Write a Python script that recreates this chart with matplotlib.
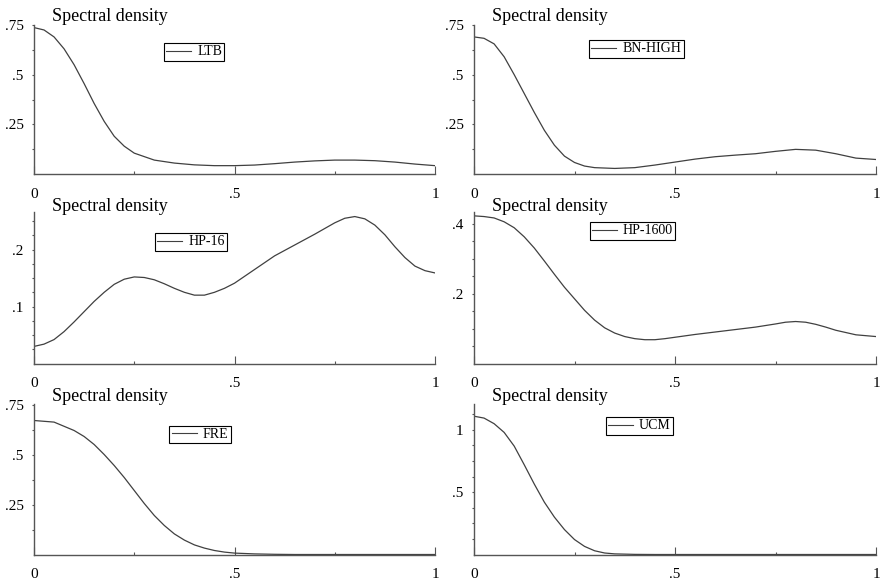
import numpy as np
import matplotlib
matplotlib.use('Agg')
import matplotlib.pyplot as plt

plt.rcParams['font.family'] = ['Liberation Serif', 'DejaVu Serif']

# frequency grid / spectral densities
f_ltb = [0, .025, .05, .075, .10, .125, .15, .175, .20, .225, .25, .30, .35, .40, .45, .50, .55, .60, .65, .70, .75, .80, .85, .90, .95, 1.0]
s_ltb = [.737, .725, .69, .63, .55, .455, .355, .265, .19, .14, .105, .07, .055, .046, .042, .042, .045, .052, .06, .066, .07, .07, .067, .06, .05, .042]

f_bn = [0, .025, .05, .075, .10, .125, .15, .175, .20, .225, .25, .275, .30, .35, .40, .45, .50, .55, .60, .65, .70, .75, .80, .85, .90, .95, 1.0]
s_bn = [.69, .683, .655, .59, .50, .405, .31, .22, .145, .09, .058, .04, .032, .028, .032, .045, .06, .075, .087, .095, .102, .114, .124, .12, .102, .08, .073]

f_hp16 = [0, .025, .05, .075, .10, .125, .15, .175, .20, .225, .25, .275, .30, .325, .35, .375, .40, .425, .45, .475, .50,
          .55, .60, .65, .70, .75, .775, .80, .825, .85, .875, .90, .925, .95, .975, 1.0]
s_hp16 = [.030, .034, .042, .056, .073, .091, .109, .125, .139, .148, .152, .151, .147, .140, .132, .125, .120, .120, .125, .132, .141,
          .165, .189, .208, .227, .247, .255, .258, .254, .243, .226, .205, .186, .171, .163, .159]

f_hp1600 = [0, .025, .05, .075, .10, .125, .15, .175, .20, .225, .25, .275, .30, .325, .35, .375, .40, .425, .45, .475, .50,
            .55, .60, .65, .70, .75, .775, .80, .825, .85, .875, .90, .95, 1.0]
s_hp1600 = [.422, .42, .416, .405, .388, .362, .33, .293, .255, .218, .185, .152, .124, .102, .087, .077, .071, .068, .068, .071, .075,
            .083, .09, .097, .104, .113, .118, .12, .118, .112, .104, .095, .082, .077]

f_fre = [0, .05, .10, .125, .15, .175, .20, .225, .25, .275, .30, .325, .35, .375, .40, .425, .45, .475, .50, .55, .60, .65, .70, .80, .90, 1.0]
s_fre = [.67, .662, .62, .59, .55, .50, .445, .385, .32, .255, .195, .145, .103, .072, .048, .032, .02, .012, .007, .003, .001, 0, 0, 0, 0, 0]

f_ucm = [0, .025, .05, .075, .10, .125, .15, .175, .20, .225, .25, .275, .30, .325, .35, .40, .45, .50, .60, .70, .80, .90, 1.0]
s_ucm = [1.11, 1.095, 1.05, .98, .87, .72, .565, .42, .30, .20, .12, .065, .03, .012, .005, .001, 0, 0, 0, 0, 0, 0, 0]

labels = ['LTB', 'BN-HIGH', 'HP-16', 'HP-1600', 'FRE', 'UCM']
freqs = [f_ltb, f_bn, f_hp16, f_hp1600, f_fre, f_ucm]
dens = [s_ltb, s_bn, s_hp16, s_hp1600, s_fre, s_ucm]
yticks = [[.25, .5, .75], [.25, .5, .75], [.1, .2], [.2, .4], [.25, .5, .75], [.5, 1]]
yticklabels = [['.25', '.5', '.75'], ['.25', '.5', '.75'], ['.1', '.2'], ['.2', '.4'], ['.25', '.5', '.75'], ['.5', '1']]
yminor = [.125, .125, .025, .05, .125, .125]
ytop = [.745, .745, .266, .433, .7525, 1.208]
leg_pos = [(.399, .819), (.404, .839), (.392, .802), (.394, .875), (.414, .80), (.411, .854)]

W, H = 881, 582
cols = [(34, 401), (474, 402)]
rows = [(25, 174), (212, 363.5), (404, 554.5)]
title_dy = [3, 1, 2.4]

fig = plt.figure(figsize=(W / 100, H / 100), dpi=100)

for i in range(6):
    r, c = divmod(i, 2)
    x0, w = cols[c]
    top, bot = rows[r]
    ax = fig.add_axes([x0 / W, (H - bot) / H, w / W, (bot - top) / H])
    ax.plot(freqs[i], dens[i], color='#404040', lw=0.9, label=labels[i])
    ax.set_xlim(0, 1)
    ax.set_ylim(0, ytop[i])
    for s in ['top', 'right']:
        ax.spines[s].set_visible(False)
    for s in ['left', 'bottom']:
        ax.spines[s].set_color('#555555')
        ax.spines[s].set_linewidth(1.0)
    ax.set_xticks([0, .5, 1])
    ax.set_xticklabels(['0', '.5', '1'])
    ax.set_xticks([.25, .75], minor=True)
    ax.set_yticks(yticks[i])
    ax.set_yticklabels(yticklabels[i])
    ax.set_yticks(np.arange(yminor[i], ytop[i], yminor[i]), minor=True)
    ax.tick_params(axis='x', which='major', direction='in', length=5.5, width=0.8,
                   color='#555555', labelsize=11, pad=10)
    ax.tick_params(axis='x', which='minor', direction='in', length=2, width=0.8, color='#555555')
    ax.tick_params(axis='y', which='both', direction='out', length=1.5, width=0.8,
                   color='#555555', labelsize=11, pad=6)
    ax.annotate('Spectral density', xy=(0, 1), xycoords='axes fraction',
                xytext=(13, title_dy[r]), textcoords='offset points', va='baseline', ha='left', fontsize=13)
    leg = ax.legend(loc='center', bbox_to_anchor=leg_pos[i], fontsize=10, handlelength=1.8,
                    handletextpad=0.45, borderpad=0.15, borderaxespad=0, fancybox=False,
                    edgecolor='black', framealpha=1)
    leg.get_frame().set_linewidth(0.8)
    for ln in leg.get_lines():
        ln.set_linewidth(0.8)

plt.savefig('out.png', dpi=100)
